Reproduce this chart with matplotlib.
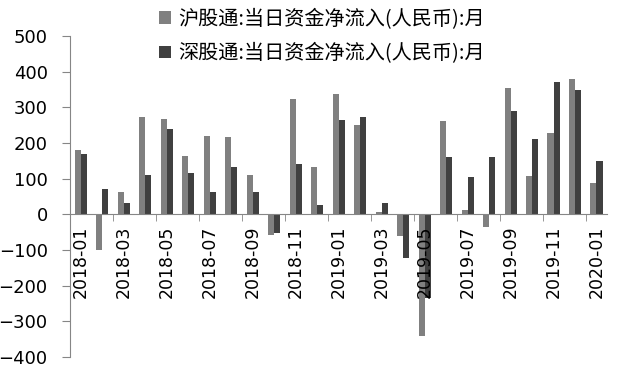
import numpy as np
import matplotlib.pyplot as plt

plt.rcParams['font.family'] = ['DejaVu Sans', 'Noto Sans CJK SC']

months = ['2018-01', '2018-02', '2018-03', '2018-04', '2018-05', '2018-06',
          '2018-07', '2018-08', '2018-09', '2018-10', '2018-11', '2018-12',
          '2019-01', '2019-02', '2019-03', '2019-04', '2019-05', '2019-06',
          '2019-07', '2019-08', '2019-09', '2019-10', '2019-11', '2019-12',
          '2020-01']
sh = [180, -100, 62, 273, 267, 163, 219, 216, 110, -59, 323, 132,
      337, 250, 8, -62, -340, 261, 11, -34, 354, 107, 228, 379, 87]
sz = [169, 70, 32, 110, 239, 115, 62, 132, 62, -51, 140, 25,
      264, 272, 31, -121, -235, 160, 104, 160, 289, 211, 371, 348, 149]
names = ['沪股通:当日资金净流入(人民币):月', '深股通:当日资金净流入(人民币):月']

fig = plt.figure(figsize=(6.19, 3.73), dpi=100)
ax = fig.add_axes([0.113, 0.043, 0.868, 0.860])

x = np.arange(len(months))
w = 0.28
ax.bar(x - w / 2, sh, w, color='#808080', label=names[0], zorder=1)
ax.bar(x + w / 2, sz, w, color='#404040', label=names[1], zorder=1)

ax.set_xlim(-0.5, len(months) - 0.5)
ax.set_ylim(-400, 500)
ax.set_yticks(range(-400, 501, 100))

for s in ['top', 'right']:
    ax.spines[s].set_visible(False)
ax.spines['bottom'].set_position(('data', 0))
ax.spines['left'].set_color('#868686')
ax.spines['bottom'].set_color('#868686')

# labels every other month, tick marks on category boundaries
ax.set_xticks(x[::2])
ax.set_xticklabels(months[::2], rotation=90, fontsize=12.5)
ax.tick_params(axis='x', which='major', length=0, pad=8)
ax.set_xticks(np.arange(-0.5, len(months), 2), minor=True)
ax.tick_params(axis='x', which='minor', length=5, direction='out', color='#868686')
ax.tick_params(axis='y', length=6, color='#868686', labelsize=13, pad=10)
for lab in ax.get_xticklabels():
    lab.set_zorder(5)

fig.legend(loc='upper left', bbox_to_anchor=(0.228, 1.025), frameon=False,
           prop={'family': ['Noto Sans CJK SC'], 'size': 14.5},
           handlelength=0.6, handleheight=0.6, handletextpad=0.35,
           labelspacing=0.65)

fig.savefig('out.png', dpi=100)
